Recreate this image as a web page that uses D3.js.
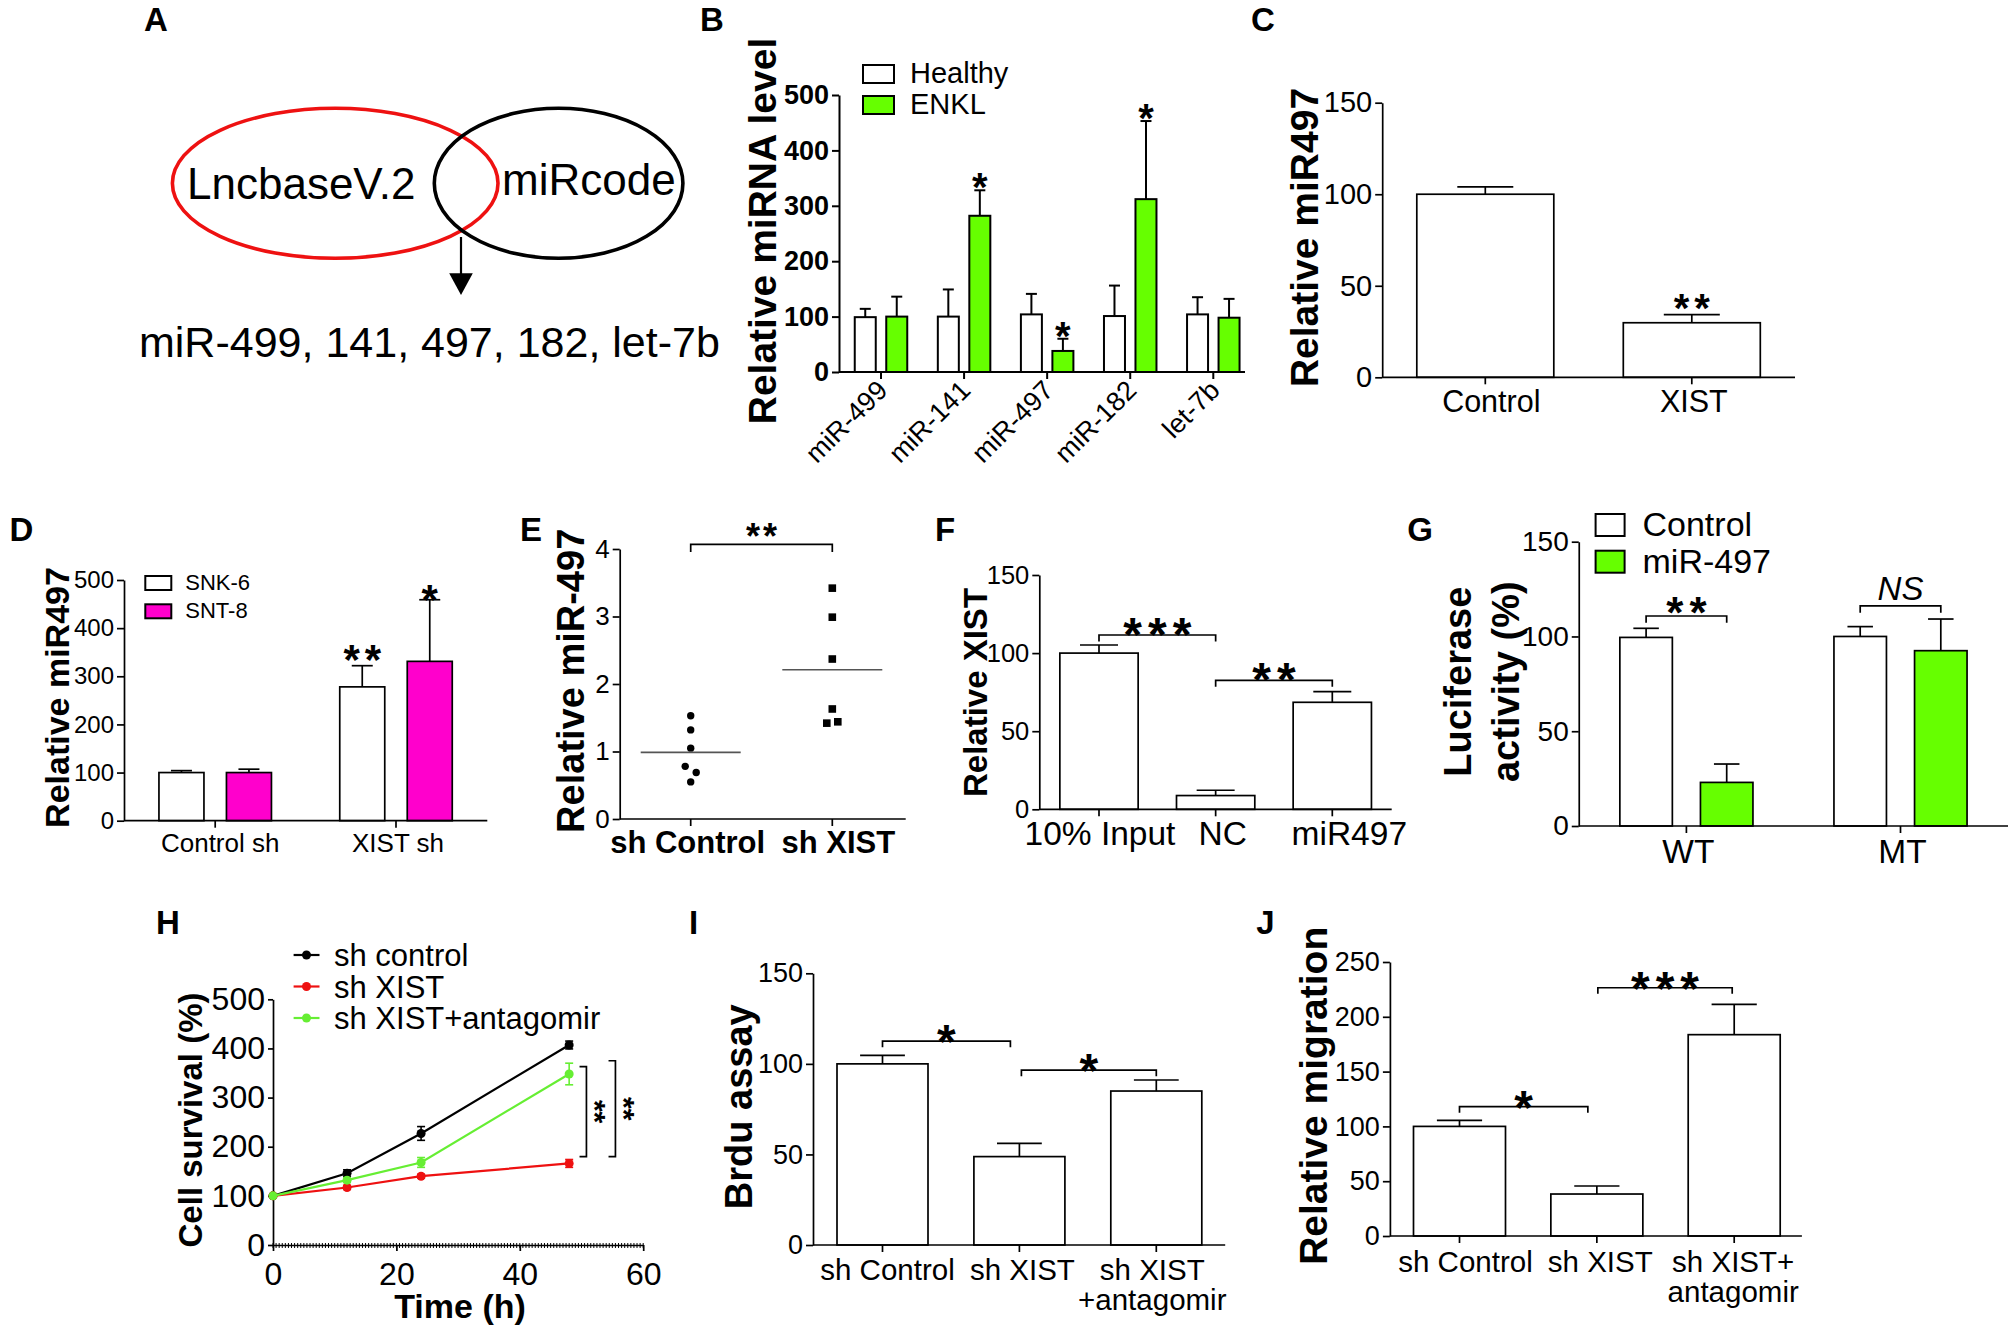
<!DOCTYPE html>
<html>
<head>
<meta charset="utf-8">
<title>XIST / miR-497 figure</title>
<script src="https://cdn.jsdelivr.net/npm/d3@7"></script>
<style>
  body { margin: 0; background: #fff; }
  svg { display: block; font-family: "Liberation Sans", Arial, Helvetica, sans-serif; }
</style>
</head>
<body>
<svg id="fig" width="2013" height="1327"></svg>
<script>
// ---------- data ----------
// A
var vennNames = ["LncbaseV.2", "miRcode"];
var vennShared = "miR-499, 141, 497, 182, let-7b";

// B
var bCats = ["miR-499", "miR-141", "miR-497", "miR-182", "let-7b"];
var bSeries = ["Healthy", "ENKL"];
var bHealthy = [99, 100, 104, 101, 104];
var bHealthyErr = [15, 49, 37, 55, 31];
var bEnkl = [100, 282, 38, 312, 98];
var bEnklErr = [36, 46, 22, 141, 34];
var bEnklStars = ["", "*", "*", "*", ""];
var bTicks = [0, 100, 200, 300, 400, 500];

// C
var cCats = ["Control", "XIST"];
var cVals = [100, 29.8];
var cErr = [4, 4.4];
var cStars = ["", "**"];
var cTicks = [0, 50, 100, 150];

// D
var dCats = ["Control sh", "XIST sh"];
var dSeries = ["SNK-6", "SNT-8"];
var dSnk = [100, 278];
var dSnkErr = [4, 44];
var dSnkStars = ["", "**"];
var dSnt = [100, 331];
var dSntErr = [7, 128];
var dSntStars = ["", "*"];
var dTicks = [0, 100, 200, 300, 400, 500];

// E
var eCats = ["sh Control", "sh XIST"];
var eControl = [1.53, 1.32, 1.05, 0.78, 0.69, 0.55];
var eXist = [3.42, 2.99, 2.37, 1.63, 1.42, 1.44];
var eTicks = [0, 1, 2, 3, 4];
var eSig = {y: 4.07, t: "**"};

// F
var fCats = ["10% Input", "NC", "miR497"];
var fVals = [100, 8.8, 68.5];
var fErr = [5.2, 3.4, 6.8];
var fTicks = [0, 50, 100, 150];
var fSig = [{a: 0, b: 1, y: 111.6, t: "***"}, {a: 1, b: 2, y: 82.6, t: "**"}];

// G
var gCats = ["WT", "MT"];
var gSeries = ["Control", "miR-497"];
var gControl = [99.5, 100];
var gControlErr = [4.8, 5.2];
var gMir = [23, 92.5];
var gMirErr = [9.7, 16.7];
var gSig = [{y: 110.8, t: "**"}, {y: 116.1, t: "NS"}];
var gTicks = [0, 50, 100, 150];

// H
var hTime = [0, 12, 24, 48];
var hSeries = ["sh control", "sh XIST", "sh XIST+antagomir"];
var hControl = [100, 146, 227, 407];
var hControlErr = [0, 7, 14, 8];
var hXist = [100, 117, 140, 166];
var hXistErr = [0, 4, 4, 8];
var hAnta = [100, 132, 168, 348];
var hAntaErr = [0, 5, 10, 22];
var hXTicks = [0, 20, 40, 60];
var hYTicks = [0, 100, 200, 300, 400, 500];
var hSig = [{t: 50.8, lo: 180, hi: 363}, {t: 55.5, lo: 180, hi: 375}];

// I
var iCats = [["sh Control"], ["sh XIST"], ["sh XIST", "+antagomir"]];
var iVals = [100, 48.8, 85];
var iErr = [4.7, 7.3, 6.1];
var iTicks = [0, 50, 100, 150];
var iSig = [{a: 0, b: 1, y: 112.6, t: "*"}, {a: 1, b: 2, y: 96.6, t: "*"}];

// J
var jCats = [["sh Control"], ["sh XIST"], ["sh XIST+", "antagomir"]];
var jVals = [100, 38.3, 183.7];
var jErr = [5.5, 7.3, 27.7];
var jTicks = [0, 50, 100, 150, 200, 250];
var jSig = [{a: 0, b: 1, y: 118, t: "*"}, {a: 1, b: 2, y: 226.5, t: "***"}];

// ---------- helpers ----------
var svg = d3.select("#fig");
var GREEN = "#66ff00", MAGENTA = "#ff00cc", RED = "#ee1111", LW = 1.7;

function letter(t, x, y) {
  svg.append("text").attr("x", x).attr("y", y).attr("text-anchor", "middle")
    .style("font-size", "33px").style("font-weight", "bold").text(t);
}

function txt(t, x, y, size, anchor, weight, style) {
  return svg.append("text").attr("x", x).attr("y", y)
    .attr("text-anchor", anchor || "middle")
    .style("font-size", size + "px")
    .style("font-weight", weight || "normal")
    .style("font-style", style || "normal")
    .text(t);
}

function yLabel(lines, cx, cy, size, gap) {
  var t = svg.append("text")
    .attr("transform", "translate(" + cx + "," + cy + ") rotate(-90)")
    .attr("text-anchor", "middle")
    .style("font-size", size + "px").style("font-weight", "bold");
  lines.forEach(function (l, i) {
    t.append("tspan").attr("x", 0).attr("y", (i - (lines.length - 1) / 2) * (gap || 0))
      .attr("dy", "0.36em").text(l);
  });
}

function leftAxis(y, x, ticks, size, bold, sw, len) {
  var ax = svg.append("g").attr("transform", "translate(" + x + ",0)")
    .call(d3.axisLeft(y).tickValues(ticks).tickFormat(d3.format("d"))
      .tickSize(len || 7).tickSizeOuter(0).tickPadding(3));
  ax.attr("font-family", null).attr("font-size", size);
  ax.select(".domain").attr("stroke", "#000").attr("stroke-width", sw || LW);
  ax.selectAll(".tick line").attr("stroke", "#000").attr("stroke-width", sw || LW);
  ax.selectAll(".tick text").attr("fill", "#000").style("font-weight", bold ? "bold" : "normal");
  return ax;
}

function baseLine(y0, x1, x2, centers, sw) {
  var g = svg.append("g").attr("stroke", "#000").attr("stroke-width", sw || LW);
  g.append("line").attr("x1", x1).attr("x2", x2).attr("y1", y0).attr("y2", y0);
  g.selectAll(null).data(centers).enter().append("line")
    .attr("x1", function (d) { return d; }).attr("x2", function (d) { return d; })
    .attr("y1", y0).attr("y2", y0 + 7);
}

function bars(rows, y, sw) {
  var g = svg.append("g");
  g.selectAll("rect").data(rows).enter().append("rect")
    .attr("x", function (d) { return d.x; })
    .attr("width", function (d) { return d.w; })
    .attr("y", function (d) { return y(d.v); })
    .attr("height", function (d) { return y(0) - y(d.v); })
    .attr("fill", function (d) { return d.fill; })
    .attr("stroke", "#000").attr("stroke-width", sw || LW);
  var eb = g.selectAll("g.eb").data(rows).enter().append("g")
    .attr("stroke", "#000").attr("stroke-width", sw || LW);
  eb.append("line")
    .attr("x1", function (d) { return d.x + d.w / 2; })
    .attr("x2", function (d) { return d.x + d.w / 2; })
    .attr("y1", function (d) { return y(d.v); })
    .attr("y2", function (d) { return y(d.v + d.e); });
  eb.append("line")
    .attr("x1", function (d) { return d.x + d.w / 2 - d.cap; })
    .attr("x2", function (d) { return d.x + d.w / 2 + d.cap; })
    .attr("y1", function (d) { return y(d.v + d.e); })
    .attr("y2", function (d) { return y(d.v + d.e); });
}

function stars(t, cx, cy, size, ls) {
  ls = ls || 0;
  svg.append("text").attr("x", cx + ls / 2).attr("y", cy + 0.58 * size)
    .attr("text-anchor", "middle")
    .style("font-size", size + "px").style("font-weight", "bold")
    .style("letter-spacing", ls + "px").text(t);
}

function bracket(x1, x2, yy, drop) {
  svg.append("path")
    .attr("d", "M" + x1 + "," + (yy + drop) + "V" + yy + "H" + x2 + "V" + (yy + drop))
    .attr("fill", "none").attr("stroke", "#000").attr("stroke-width", LW);
}

function legend(items, x, y, w, h, step, tx, size) {
  items.forEach(function (it, i) {
    svg.append("rect").attr("x", x).attr("y", y + i * step).attr("width", w).attr("height", h)
      .attr("fill", it.fill).attr("stroke", "#000").attr("stroke-width", 2);
    txt(it.label, tx, y + h + i * step, size, "start");
  });
}

function catLabels(cats, x, dx, base, size, lineGap, weight) {
  cats.forEach(function (c, i) {
    var lines = Array.isArray(c) ? c : [c];
    lines.forEach(function (l, k) {
      txt(l, x(i) + dx[i], base + k * lineGap, size, "middle", weight);
    });
  });
}

function spread(vals, thr, off) {
  var o = vals.map(function () { return 0; });
  for (var i = 0; i < vals.length; i++)
    for (var j = i + 1; j < vals.length; j++)
      if (o[i] === 0 && o[j] === 0 && Math.abs(vals[i] - vals[j]) < thr) { o[i] = -off; o[j] = off; }
  return o;
}

// ---------- A: venn ----------
(function () {
  var g = svg.append("g");
  var cy = 183.3, ry = 75;
  g.append("ellipse").attr("cx", 335.2).attr("cy", cy).attr("rx", 162.8).attr("ry", ry)
    .attr("fill", "none").attr("stroke", RED).attr("stroke-width", 3.6);
  g.append("ellipse").attr("cx", 558.6).attr("cy", cy).attr("rx", 124.3).attr("ry", ry)
    .attr("fill", "none").attr("stroke", "#000").attr("stroke-width", 3.6);
  txt(vennNames[0], 187, 199, 44, "start");
  txt(vennNames[1], 502, 195, 44, "start");
  g.append("line").attr("x1", 461).attr("x2", 461).attr("y1", 237).attr("y2", 276)
    .attr("stroke", "#000").attr("stroke-width", 2.2);
  g.append("path").attr("d", "M449.2,273.3L472.8,273.3L461,295Z").attr("fill", "#000");
  txt(vennShared, 139, 357, 43, "start");
  letter("A", 156, 31);
})();

// ---------- B ----------
(function () {
  var y = d3.scaleLinear().domain([0, 500]).range([372, 95]);
  var x = d3.scalePoint().domain(bCats).range([881, 1213.3]);
  var sub = d3.scaleBand().domain(bSeries).range([-26.25, 26.25]).paddingInner(1 - 21 / 31.5);
  var rows = [];
  bCats.forEach(function (c, i) {
    rows.push({x: x(c) + sub("Healthy"), w: sub.bandwidth(), v: bHealthy[i], e: bHealthyErr[i], fill: "#fff", cap: 5.5, star: ""});
    rows.push({x: x(c) + sub("ENKL"), w: sub.bandwidth(), v: bEnkl[i], e: bEnklErr[i], fill: GREEN, cap: 5.5, star: bEnklStars[i]});
  });
  bars(rows, y, 2);
  leftAxis(y, 839, bTicks, 27, true, 2);
  baseLine(372, 839, 1245, bCats.map(x), 2);
  rows.forEach(function (d) { if (d.star) stars(d.star, d.x + d.w / 2, y(d.v + d.e) - 12, 40, 0); });
  svg.append("g").selectAll("text").data(bCats).enter().append("text")
    .attr("transform", function (d) { return "translate(" + (x(d) + 8) + "," + (372 + 20) + ") rotate(-45)"; })
    .attr("text-anchor", "end").style("font-size", "27px").text(function (d) { return d; });
  legend([{label: bSeries[0], fill: "#fff"}, {label: bSeries[1], fill: GREEN}], 863, 65, 31, 18, 31, 910, 29);
  yLabel(["Relative miRNA level"], 762, 231, 39);
  letter("B", 712, 31);
})();

// ---------- C ----------
(function () {
  var y = d3.scaleLinear().domain([0, 150]).range([377.3, 102.7]);
  var x = d3.scalePoint().domain(d3.range(cCats.length)).range([1485.3, 1691.8]);
  var rows = cCats.map(function (c, i) {
    return {x: x(i) - 68.5, w: 137, v: cVals[i], e: cErr[i], fill: "#fff", cap: 28, star: cStars[i]};
  });
  bars(rows, y);
  leftAxis(y, 1382.2, cTicks, 29);
  baseLine(377.3, 1382.2, 1795, d3.range(cCats.length).map(x));
  rows.forEach(function (d) { if (d.star) stars(d.star, d.x + d.w / 2, y(d.v + d.e) - 16, 40, 5); });
  catLabels(cCats, x, [6, 2], 411.7, 30.5, 0);
  yLabel(["Relative miR497"], 1303.7, 237.5, 39);
  letter("C", 1263, 31);
})();

// ---------- D ----------
(function () {
  var y = d3.scaleLinear().domain([0, 500]).range([820.7, 580]);
  var x = d3.scalePoint().domain(d3.range(dCats.length)).range([215.2, 396]);
  var sub = d3.scaleBand().domain(dSeries).range([-56.25, 56.25]).paddingInner(1 - 45 / 67.5);
  var rows = [];
  dCats.forEach(function (c, i) {
    rows.push({x: x(i) + sub(dSeries[0]), w: sub.bandwidth(), v: dSnk[i], e: dSnkErr[i], fill: "#fff", cap: 10.5, star: dSnkStars[i], ss: 16});
    rows.push({x: x(i) + sub(dSeries[1]), w: sub.bandwidth(), v: dSnt[i], e: dSntErr[i], fill: MAGENTA, cap: 10.5, star: dSntStars[i], ss: 10});
  });
  bars(rows, y);
  leftAxis(y, 124, dTicks, 24);
  baseLine(820.7, 124, 487.3, d3.range(dCats.length).map(x));
  rows.forEach(function (d) { if (d.star) stars(d.star, d.x + d.w / 2, y(d.v + d.e) - d.ss, 42, d.star.length > 1 ? 5 : 0); });
  legend([{label: dSeries[0], fill: "#fff"}, {label: dSeries[1], fill: MAGENTA}], 145.3, 576, 26, 14, 28.3, 185.3, 22);
  catLabels(dCats, x, [5, 2], 851.7, 26, 0);
  yLabel(["Relative miR497"], 56.8, 697.5, 34);
  letter("D", 21.5, 540.5);
})();

// ---------- E ----------
(function () {
  var y = d3.scaleLinear().domain([0, 4]).range([819, 549]);
  var x = d3.scalePoint().domain(d3.range(eCats.length)).range([690.7, 832.3]);
  var g = svg.append("g");
  var oc = spread(eControl, 0.12, 5.5), ox = spread(eXist, 0.12, 5.5);
  g.selectAll("circle").data(eControl).enter().append("circle")
    .attr("cx", function (d, i) { return x(0) + oc[i]; })
    .attr("cy", function (d) { return y(d); })
    .attr("r", 3.7).attr("fill", "#000");
  g.selectAll("rect").data(eXist).enter().append("rect")
    .attr("x", function (d, i) { return x(1) + ox[i] - 3.8; })
    .attr("y", function (d) { return y(d) - 3.8; })
    .attr("width", 7.6).attr("height", 7.6).attr("fill", "#000");
  [eControl, eXist].forEach(function (vals, i) {
    var m = d3.mean(vals);
    g.append("line").attr("x1", x(i) - 50).attr("x2", x(i) + 50)
      .attr("y1", y(m)).attr("y2", y(m)).attr("stroke", "#555").attr("stroke-width", 1.6);
  });
  leftAxis(y, 619.7, eTicks, 26);
  baseLine(819, 619.7, 905.7, d3.range(eCats.length).map(x));
  bracket(x(0), x(1), y(eSig.y), 7.7);
  stars(eSig.t, (x(0) + x(1)) / 2, y(eSig.y) - 16.5, 36, 3);
  catLabels(eCats, x, [-3, 6], 853.3, 31, 0, "bold");
  yLabel(["Relative miR-497"], 570.7, 680.8, 38);
  letter("E", 531, 540.5);
})();

// ---------- F ----------
(function () {
  var y = d3.scaleLinear().domain([0, 150]).range([809.3, 575]);
  var x = d3.scalePoint().domain(d3.range(fCats.length)).range([1099, 1332.3]);
  var rows = fCats.map(function (c, i) {
    return {x: x(i) - 39.15, w: 78.3, v: fVals[i], e: fErr[i], fill: "#fff", cap: 19};
  });
  bars(rows, y);
  leftAxis(y, 1039.3, fTicks, 25.5);
  baseLine(809.3, 1039.3, 1391.7, d3.range(fCats.length).map(x));
  fSig.forEach(function (s) {
    bracket(x(s.a), x(s.b), y(s.y), 6.5);
    stars(s.t, (x(s.a) + x(s.b)) / 2, y(s.y) - 12, 48, 6);
  });
  catLabels(fCats, x, [1, 7, 17], 845, 33.5, 0);
  yLabel(["Relative XIST"], 975, 692.5, 33);
  letter("F", 945, 540.5);
})();

// ---------- G ----------
(function () {
  var y = d3.scaleLinear().domain([0, 150]).range([826, 541.7]);
  var x = d3.scalePoint().domain(d3.range(gCats.length)).range([1686.4, 1900.5]);
  var sub = d3.scaleBand().domain(gSeries).range([-66.55, 66.55]).paddingInner(1 - 52.5 / 80.6);
  var rows = [];
  gCats.forEach(function (c, i) {
    rows.push({x: x(i) + sub(gSeries[0]), w: sub.bandwidth(), v: gControl[i], e: gControlErr[i], fill: "#fff", cap: 12.75});
    rows.push({x: x(i) + sub(gSeries[1]), w: sub.bandwidth(), v: gMir[i], e: gMirErr[i], fill: GREEN, cap: 12.75});
  });
  bars(rows, y);
  leftAxis(y, 1578.75, gTicks, 28);
  baseLine(826, 1578.75, 2008, d3.range(gCats.length).map(x));
  gSig.forEach(function (s, i) {
    var x1 = x(i) + sub(gSeries[0]) + sub.bandwidth() / 2;
    var x2 = x(i) + sub(gSeries[1]) + sub.bandwidth() / 2;
    bracket(x1, x2, y(s.y), 6.7);
    if (s.t === "NS") txt(s.t, (x1 + x2) / 2, y(s.y) - 6, 33, "middle", "normal", "italic");
    else stars(s.t, (x1 + x2) / 2, y(s.y) - 13.5, 44, 6);
  });
  legend([{label: gSeries[0], fill: "#fff"}, {label: gSeries[1], fill: GREEN}], 1595.6, 514, 29, 22, 36.7, 1642.5, 34);
  catLabels(gCats, x, [2, 2], 863.3, 33.5, 0);
  yLabel(["Luciferase", "activity (%)"], 1481.25, 681.7, 38, 48.7);
  letter("G", 1420, 540.5);
})();

// ---------- H ----------
(function () {
  var x = d3.scaleLinear().domain([0, 60]).range([273, 643.2]);
  var y = d3.scaleLinear().domain([0, 500]).range([1245, 999.3]);
  var series = [
    {name: hSeries[0], v: hControl, e: hControlErr, c: "#000"},
    {name: hSeries[1], v: hXist, e: hXistErr, c: RED},
    {name: hSeries[2], v: hAnta, e: hAntaErr, c: "#66ee33"}
  ];
  // minor ticks on the time axis
  svg.append("g").attr("stroke", "#000").attr("stroke-width", 1)
    .selectAll("line").data(d3.range(0, 60.01, 0.5)).enter().append("line")
    .attr("x1", function (d) { return x(d); }).attr("x2", function (d) { return x(d); })
    .attr("y1", 1243).attr("y2", 1248);
  var ax = svg.append("g").attr("transform", "translate(0,1245)")
    .call(d3.axisBottom(x).tickValues(hXTicks).tickSize(6).tickSizeOuter(0).tickPadding(11));
  ax.attr("font-family", null).attr("font-size", 32);
  ax.select(".domain").attr("stroke", "#000").attr("stroke-width", LW);
  ax.selectAll(".tick line").attr("stroke", "#000").attr("stroke-width", LW);
  ax.selectAll(".tick text").attr("fill", "#000");
  leftAxis(y, 273, hYTicks, 32, false, LW, 5);

  var line = d3.line().x(function (d) { return x(d[0]); }).y(function (d) { return y(d[1]); });
  series.forEach(function (s) {
    var pts = hTime.map(function (t, i) { return [t, s.v[i], s.e[i]]; });
    var g = svg.append("g");
    g.append("path").attr("d", line(pts)).attr("fill", "none").attr("stroke", s.c).attr("stroke-width", 2.2);
    var eb = g.selectAll("g").data(pts.filter(function (p) { return p[2] > 0; })).enter().append("g")
      .attr("stroke", s.c).attr("stroke-width", 1.6);
    eb.append("line").attr("x1", function (p) { return x(p[0]); }).attr("x2", function (p) { return x(p[0]); })
      .attr("y1", function (p) { return y(p[1] - p[2]); }).attr("y2", function (p) { return y(p[1] + p[2]); });
    [-1, 1].forEach(function (sg) {
      eb.append("line").attr("x1", function (p) { return x(p[0]) - 4; }).attr("x2", function (p) { return x(p[0]) + 4; })
        .attr("y1", function (p) { return y(p[1] + sg * p[2]); }).attr("y2", function (p) { return y(p[1] + sg * p[2]); });
    });
    g.selectAll("circle").data(pts).enter().append("circle")
      .attr("cx", function (p) { return x(p[0]); }).attr("cy", function (p) { return y(p[1]); })
      .attr("r", 4.5).attr("fill", s.c);
  });
  // legend (tight line spacing as in the original)
  var lb = [966, 997.5, 1029];
  series.forEach(function (s, i) {
    svg.append("line").attr("x1", 293.6).attr("x2", 319.5).attr("y1", lb[i] - 11).attr("y2", lb[i] - 11)
      .attr("stroke", s.c).attr("stroke-width", 2.2);
    svg.append("circle").attr("cx", 306.5).attr("cy", lb[i] - 11).attr("r", 4.5).attr("fill", s.c);
    txt(s.name, 334, lb[i], 31, "start");
  });
  // vertical significance brackets
  hSig.forEach(function (s) {
    var X = x(s.t);
    svg.append("path").attr("d", "M" + (X - 6.9) + "," + y(s.hi) + "H" + X + "V" + y(s.lo) + "H" + (X - 6.9))
      .attr("fill", "none").attr("stroke", "#000").attr("stroke-width", LW);
    svg.append("text").attr("transform", "translate(" + (X + 15.5) + "," + y((s.lo + s.hi) / 2) + ") rotate(90)")
      .attr("text-anchor", "middle").attr("dy", "0.58em")
      .style("font-size", "30px").style("font-weight", "bold").text("**");
  });
  txt("Time (h)", 460, 1318, 34, "middle", "bold");
  yLabel(["Cell survival (%)"], 190, 1120, 33);
  letter("H", 168, 934);
})();

// ---------- I ----------
(function () {
  var y = d3.scaleLinear().domain([0, 150]).range([1245, 973.3]);
  var x = d3.scalePoint().domain(d3.range(iCats.length)).range([882.5, 1156.3]);
  var rows = iCats.map(function (c, i) {
    return {x: x(i) - 45.5, w: 91, v: iVals[i], e: iErr[i], fill: "#fff", cap: 22.4};
  });
  bars(rows, y);
  leftAxis(y, 813, iTicks, 27);
  baseLine(1245, 813, 1225.2, d3.range(iCats.length).map(x));
  var ins = [[0, -9], [2, 0]];
  iSig.forEach(function (s, k) {
    var x1 = x(s.a) + ins[k][0], x2 = x(s.b) + ins[k][1];
    bracket(x1, x2, y(s.y), 6.3);
    stars(s.t, (x1 + x2) / 2, y(s.y) - 11, 48, 0);
  });
  catLabels(iCats, x, [5, 3, -4], 1280, 29.5, 30);
  yLabel(["Brdu assay"], 737.9, 1106.7, 38);
  letter("I", 693.7, 934);
})();

// ---------- J ----------
(function () {
  var y = d3.scaleLinear().domain([0, 250]).range([1236, 962]);
  var x = d3.scalePoint().domain(d3.range(jCats.length)).range([1459.5, 1734.2]);
  var rows = jCats.map(function (c, i) {
    return {x: x(i) - 46, w: 92, v: jVals[i], e: jErr[i], fill: "#fff", cap: 22.6};
  });
  bars(rows, y);
  leftAxis(y, 1389.9, jTicks, 27);
  baseLine(1236, 1389.9, 1801.9, d3.range(jCats.length).map(x));
  var ins = [[0, -9], [1, -2]];
  jSig.forEach(function (s, k) {
    var x1 = x(s.a) + ins[k][0], x2 = x(s.b) + ins[k][1];
    bracket(x1, x2, y(s.y), 6);
    stars(s.t, (x1 + x2) / 2, y(s.y) - 11, 48, s.t.length > 1 ? 6 : 0);
  });
  catLabels(jCats, x, [6, 3.4, -1], 1271.7, 29.5, 30);
  yLabel(["Relative migration"], 1312.7, 1095.8, 39);
  letter("J", 1265.5, 934);
})();
</script>
</body>
</html>
